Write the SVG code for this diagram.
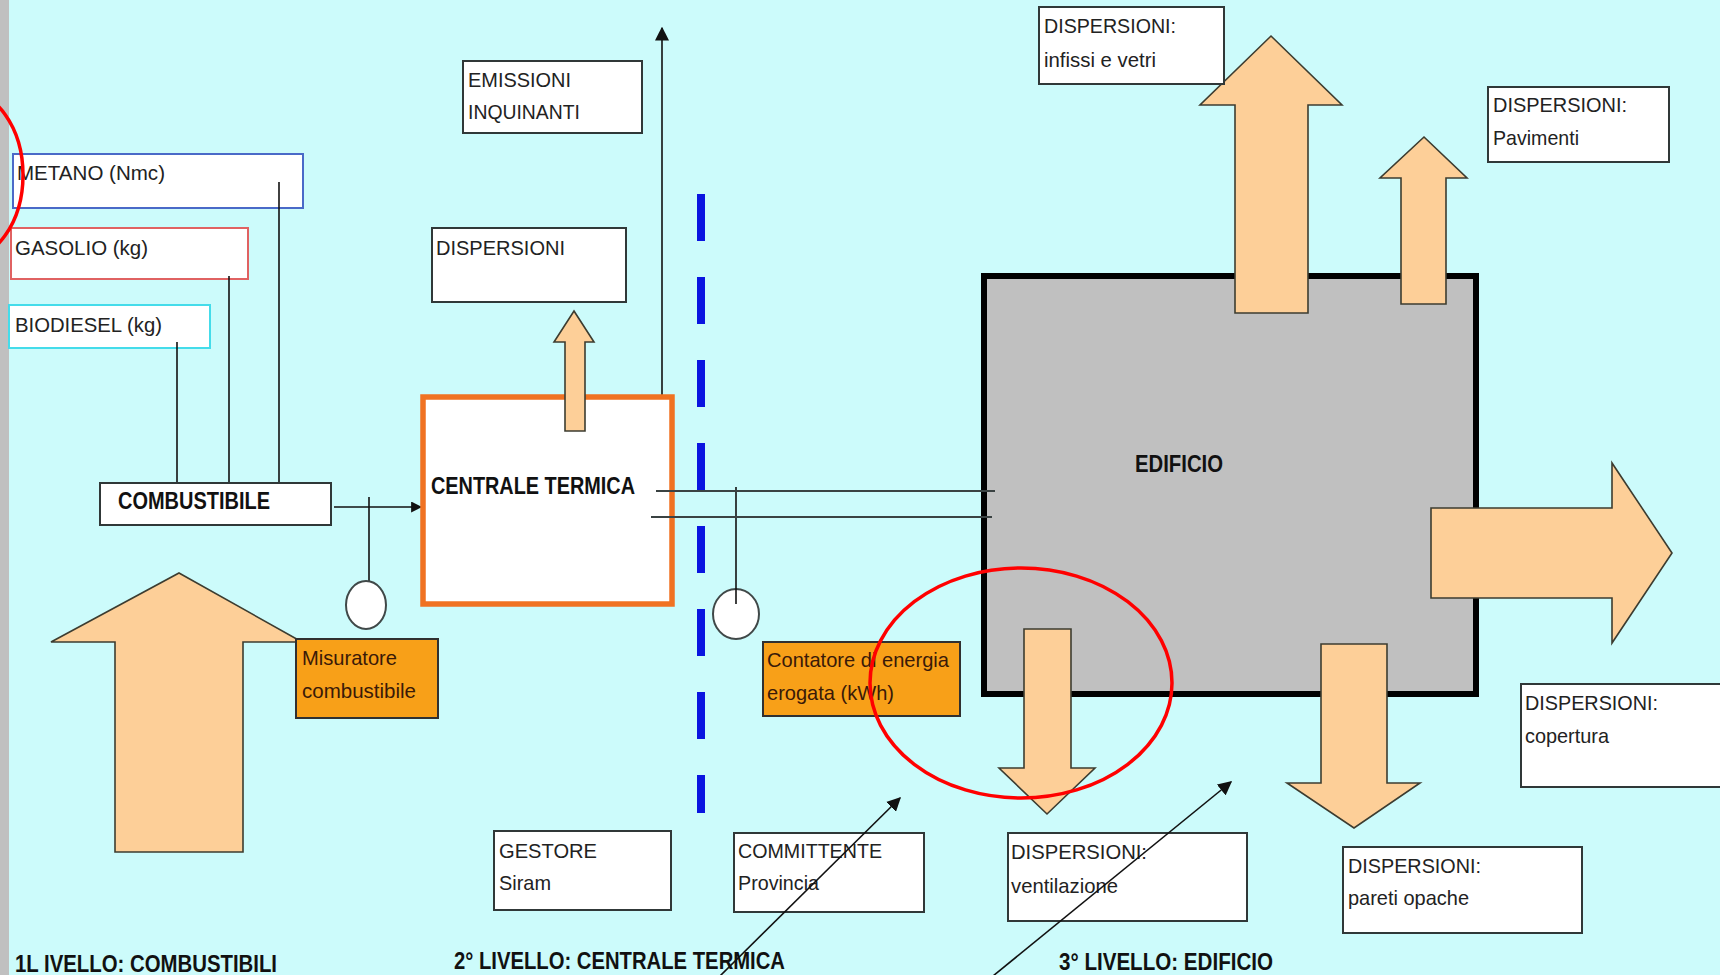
<svg xmlns="http://www.w3.org/2000/svg" width="1720" height="975" viewBox="0 0 1720 975">
<defs>
<style>
.bg{fill:#ccfbfb}
.box{fill:#ffffff;stroke:#303838;stroke-width:2}
.lbl{font-family:"Liberation Sans",Arial,sans-serif;font-size:21px;fill:#222}
.ttl{font-family:"Liberation Sans",Arial,sans-serif;font-size:24px;font-weight:bold;fill:#111}
.org{fill:#f8a018;stroke:#303030;stroke-width:2}
.otxt{font-family:"Liberation Sans",Arial,sans-serif;font-size:21px;fill:#3a1a08}
.big{fill:#fdcf98;stroke:#3c3c30;stroke-width:1.6;stroke-linejoin:miter}
.ln{stroke:#111;stroke-width:1.6;fill:none}
.hl{stroke:#3a4242;stroke-width:2.2;fill:none}
.meter{fill:#ffffff;stroke:#404848;stroke-width:2}
.ring{fill:none;stroke:#ff0000;stroke-width:3.5}
</style>
<marker id="ah" viewBox="0 0 10 10" refX="9" refY="5" markerWidth="14" markerHeight="14" markerUnits="userSpaceOnUse" orient="auto">
<path d="M0,0 L10,5 L0,10 z" fill="#111"/>
</marker>
<marker id="ahs" viewBox="0 0 10 10" refX="9" refY="5" markerWidth="11" markerHeight="11" markerUnits="userSpaceOnUse" orient="auto">
<path d="M0,0 L10,5 L0,10 z" fill="#111"/>
</marker>
</defs>

<rect class="bg" x="0" y="0" width="1720" height="975"/>
<rect x="0" y="0" width="9" height="975" fill="#c0c0c0"/>

<!-- Level 1: fuels -->
<g id="metano">
<rect x="13" y="154" width="290" height="54" fill="#fff" stroke="#4a6ac8" stroke-width="2"/>
<text class="lbl" x="17" y="180" textLength="148" lengthAdjust="spacingAndGlyphs">METANO (Nmc)</text>
</g>
<g id="gasolio">
<rect x="11" y="228" width="237" height="51" fill="#fff" stroke="#e06262" stroke-width="2"/>
<text class="lbl" x="15" y="255" textLength="133" lengthAdjust="spacingAndGlyphs">GASOLIO (kg)</text>
</g>
<g id="biodiesel">
<rect x="9" y="305" width="201" height="43" fill="#fff" stroke="#44dcea" stroke-width="2"/>
<text class="lbl" x="15" y="332" textLength="147" lengthAdjust="spacingAndGlyphs">BIODIESEL (kg)</text>
</g>

<g id="connectors">
<line class="ln" x1="177" y1="342" x2="177" y2="483"/>
<line class="ln" x1="229" y1="276" x2="229" y2="483"/>
<line class="ln" x1="279" y1="182" x2="279" y2="483"/>
<line class="ln" x1="334" y1="507" x2="421" y2="507" marker-end="url(#ahs)"/>
<line class="ln" x1="369" y1="497" x2="369" y2="583"/>
<line class="ln" x1="662" y1="397" x2="662" y2="28" marker-end="url(#ah)"/>
<line x1="701" y1="194" x2="701" y2="813" stroke="#0a14e0" stroke-width="8" stroke-dasharray="47 36"/>
</g>

<g id="combustibile">
<rect class="box" x="100" y="483" width="231" height="42"/>
<text class="ttl" x="118" y="509" textLength="152" lengthAdjust="spacingAndGlyphs">COMBUSTIBILE</text>
</g>

<g id="arrow-fuel">
<polygon class="big" points="179,573 302,642 243,642 243,852 115,852 115,642 51,642"/>
</g>

<g id="misuratore-meter">
<ellipse class="meter" cx="366" cy="605" rx="20" ry="24"/>
</g>
<g id="misuratore">
<rect class="org" x="296" y="639" width="142" height="79"/>
<text class="otxt" x="302" y="665" textLength="95" lengthAdjust="spacingAndGlyphs">Misuratore</text>
<text class="otxt" x="302" y="698" textLength="114" lengthAdjust="spacingAndGlyphs">combustibile</text>
</g>

<!-- Level 2: central plant -->
<g id="emissioni">
<rect class="box" x="463" y="61" width="179" height="72"/>
<text class="lbl" x="468" y="87" textLength="103" lengthAdjust="spacingAndGlyphs">EMISSIONI</text>
<text class="lbl" x="468" y="119" textLength="112" lengthAdjust="spacingAndGlyphs">INQUINANTI</text>
</g>
<g id="dispersioni-ct">
<rect class="box" x="432" y="228" width="194" height="74"/>
<text class="lbl" x="436" y="255" textLength="129" lengthAdjust="spacingAndGlyphs">DISPERSIONI</text>
</g>
<g id="centrale-termica">
<rect x="423" y="397" width="249" height="207" fill="#fff" stroke="#f07222" stroke-width="5.5"/>
<text class="ttl" x="431" y="494" textLength="204" lengthAdjust="spacingAndGlyphs">CENTRALE TERMICA</text>
</g>
<g id="arrow-ct">
<polygon class="big" points="574,311 594,342 585,342 585,431 565,431 565,342 554,342"/>
</g>

<g id="contatore-meter">
<ellipse class="meter" cx="736" cy="614" rx="23" ry="25"/>
<line class="ln" x1="736" y1="487" x2="736" y2="604"/>
</g>
<g id="contatore">
<rect class="org" x="763" y="642" width="197" height="74"/>
<text class="otxt" x="767" y="667" textLength="182" lengthAdjust="spacingAndGlyphs">Contatore di energia</text>
<text class="otxt" x="767" y="700" textLength="127" lengthAdjust="spacingAndGlyphs">erogata (kWh)</text>
</g>

<g id="gestore">
<rect class="box" x="494" y="831" width="177" height="79"/>
<text class="lbl" x="499" y="858" textLength="98" lengthAdjust="spacingAndGlyphs">GESTORE</text>
<text class="lbl" x="499" y="890" textLength="52" lengthAdjust="spacingAndGlyphs">Siram</text>
</g>
<g id="committente">
<rect class="box" x="734" y="833" width="190" height="79"/>
<text class="lbl" x="738" y="858" textLength="144" lengthAdjust="spacingAndGlyphs">COMMITTENTE</text>
<text class="lbl" x="738" y="890" textLength="81" lengthAdjust="spacingAndGlyphs">Provincia</text>
</g>

<!-- Level 3: building -->
<g id="edificio">
<rect x="984" y="276" width="492" height="418" fill="#c0c0c0" stroke="#000" stroke-width="6"/>
<text class="ttl" x="1135" y="472" textLength="88" lengthAdjust="spacingAndGlyphs">EDIFICIO</text>
</g>
<g id="pipes">
<line class="hl" x1="656" y1="491" x2="995" y2="491"/>
<line class="hl" x1="651" y1="517" x2="992" y2="517"/>
</g>

<g id="arrow-infissi">
<polygon class="big" points="1271,36 1342,105 1308,105 1308,313 1235,313 1235,105 1200,105"/>
</g>
<g id="arrow-pavimenti">
<polygon class="big" points="1424,137 1467,178 1446,178 1446,304 1401,304 1401,178 1380,178"/>
</g>
<g id="arrow-copertura">
<polygon class="big" points="1431,508 1612,508 1612,463 1672,553 1612,643 1612,598 1431,598"/>
</g>
<g id="arrow-ventilazione">
<polygon class="big" points="1024,629 1071,629 1071,768 1095,768 1047,814 999,768 1024,768"/>
</g>
<g id="arrow-pareti">
<polygon class="big" points="1321,644 1387,644 1387,783 1420,783 1354,828 1287,783 1321,783"/>
</g>

<g id="disp-infissi">
<rect class="box" x="1039" y="7" width="185" height="77"/>
<text class="lbl" x="1044" y="33" textLength="132" lengthAdjust="spacingAndGlyphs">DISPERSIONI:</text>
<text class="lbl" x="1044" y="67" textLength="112" lengthAdjust="spacingAndGlyphs">infissi e vetri</text>
</g>
<g id="disp-pavimenti">
<rect class="box" x="1488" y="87" width="181" height="75"/>
<text class="lbl" x="1493" y="112" textLength="134" lengthAdjust="spacingAndGlyphs">DISPERSIONI:</text>
<text class="lbl" x="1493" y="145" textLength="86" lengthAdjust="spacingAndGlyphs">Pavimenti</text>
</g>
<g id="disp-copertura">
<rect class="box" x="1521" y="684" width="202" height="103"/>
<text class="lbl" x="1525" y="710" textLength="133" lengthAdjust="spacingAndGlyphs">DISPERSIONI:</text>
<text class="lbl" x="1525" y="743" textLength="84" lengthAdjust="spacingAndGlyphs">copertura</text>
</g>
<g id="disp-ventilazione">
<rect class="box" x="1008" y="833" width="239" height="88"/>
<text class="lbl" x="1011" y="859" textLength="136" lengthAdjust="spacingAndGlyphs">DISPERSIONI:</text>
<text class="lbl" x="1011" y="893" textLength="107" lengthAdjust="spacingAndGlyphs">ventilazione</text>
</g>
<g id="disp-pareti">
<rect class="box" x="1343" y="847" width="239" height="86"/>
<text class="lbl" x="1348" y="873" textLength="133" lengthAdjust="spacingAndGlyphs">DISPERSIONI:</text>
<text class="lbl" x="1348" y="905" textLength="121" lengthAdjust="spacingAndGlyphs">pareti opache</text>
</g>

<!-- level titles -->
<g id="titles">
<text class="ttl" x="15" y="972" textLength="262" lengthAdjust="spacingAndGlyphs">1L IVELLO: COMBUSTIBILI</text>
<text class="ttl" x="454" y="969" textLength="331" lengthAdjust="spacingAndGlyphs">2° LIVELLO: CENTRALE TERMICA</text>
<text class="ttl" x="1059" y="970" textLength="214" lengthAdjust="spacingAndGlyphs">3° LIVELLO: EDIFICIO</text>
</g>

<g id="pointers">
<line class="ln" x1="720" y1="976" x2="900" y2="798" marker-end="url(#ah)"/>
<line class="ln" x1="993" y1="976" x2="1231" y2="782" marker-end="url(#ah)"/>
</g>

<g id="highlights">
<ellipse class="ring" cx="-37" cy="175" rx="60" ry="85" stroke-width="4.5"/>
<ellipse class="ring" cx="1021" cy="683" rx="151" ry="115"/>
</g>
</svg>
